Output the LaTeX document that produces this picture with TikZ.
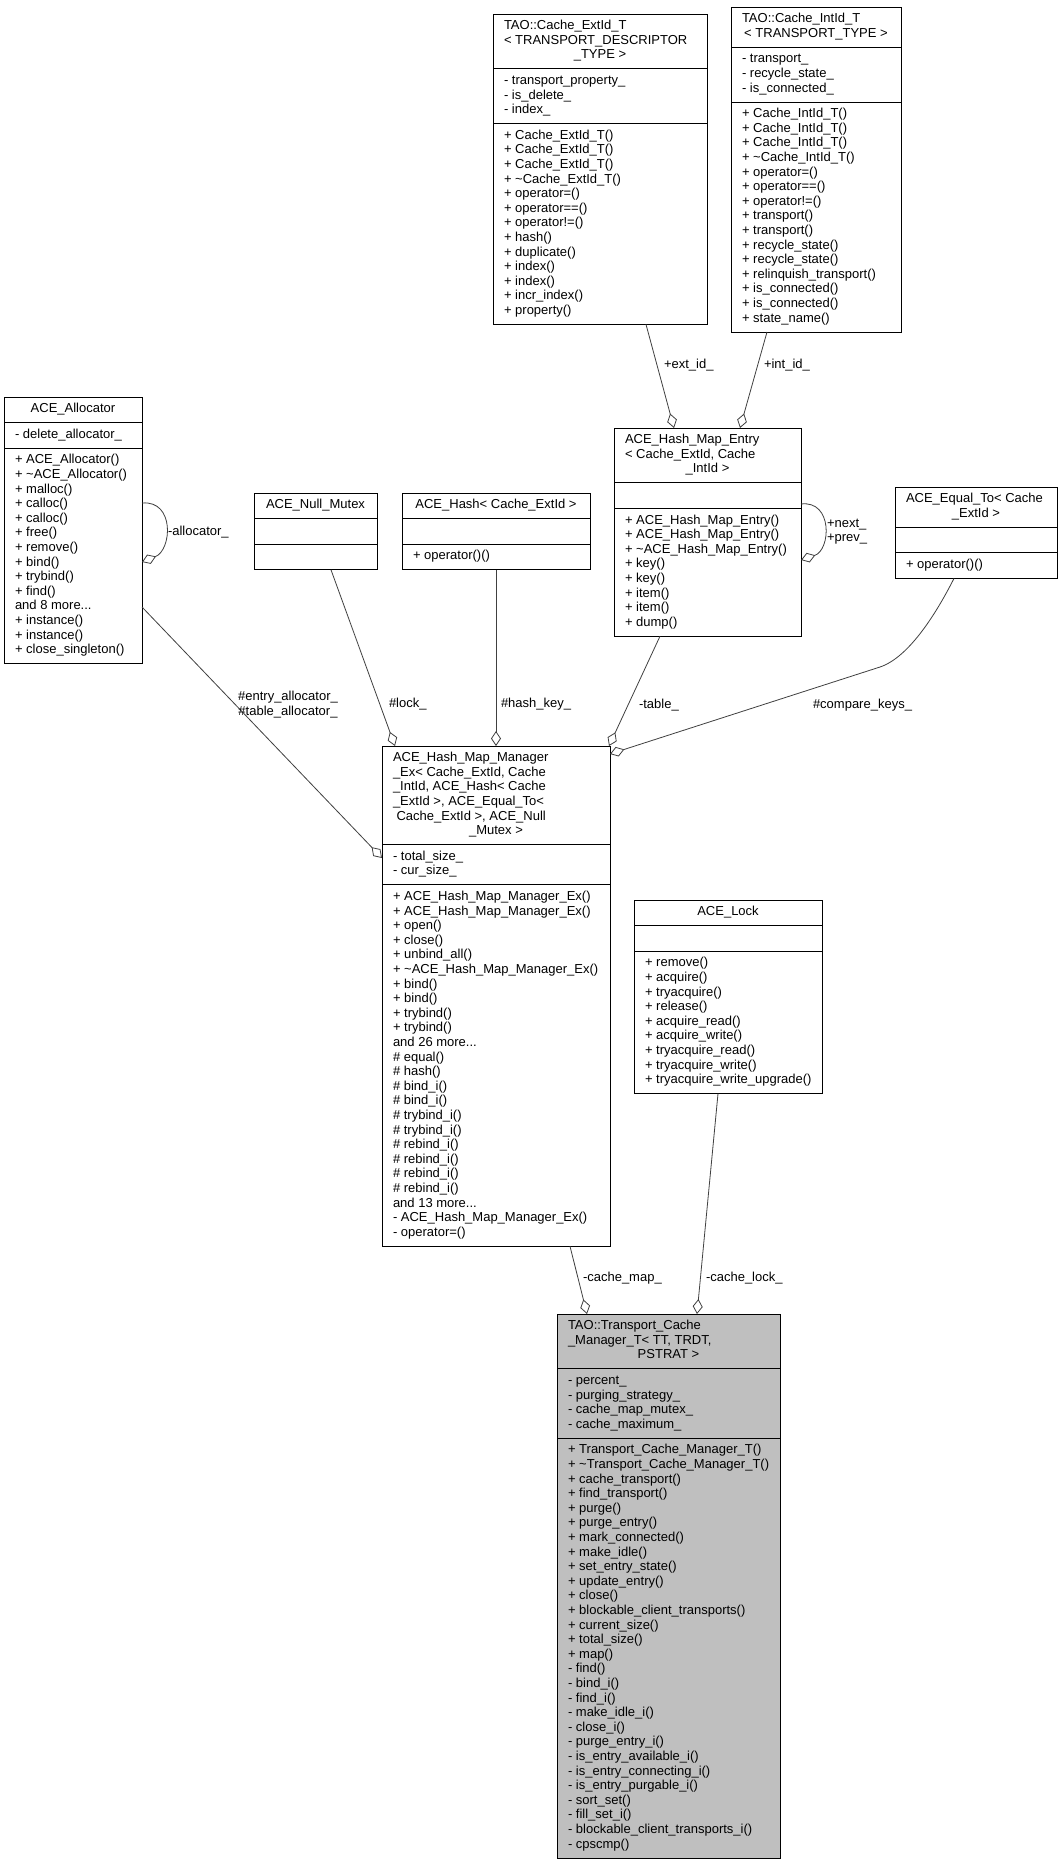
\documentclass[tikz,border=0pt]{standalone}
\usepackage{fontspec}
\setmainfont{Liberation Sans}
\usetikzlibrary{arrows.meta,calc}
\definecolor{cgray}{HTML}{BFBFBF}
\definecolor{edgecol}{HTML}{404040}
\tikzset{
 umlbox/.style={draw=black, line width=1pt, inner sep=0pt, outer sep=0pt, anchor=north west},
 sepline/.style={draw=black, line width=1pt},
 txt/.style={inner sep=0pt, outer sep=0pt, font=\fontsize{13}{14.6}\selectfont},
 agg/.style={draw=edgecol, line width=0.8pt, -{Diamond[open,length=15pt,width=10pt]}},
 lbl/.style={txt, anchor=west},
}
\newcommand\umlclass[8]{%
  \pgfmathsetmacro\hA{14.6*max(#5,1)+11}%
  \pgfmathsetmacro\hB{14.6*max(#6,1)+11}%
  \pgfmathsetmacro\hC{14.6*max(#7,1)+11}%
  \pgfmathsetmacro\hT{\hA+\hB+\hC}%
  \node[umlbox, fill=#8, minimum width=#4pt, minimum height=\hT pt] (#1) at (#2,#3) {};
  \draw[sepline] ($(#1.north west)+(0,\hA)$) -- ($(#1.north east)+(0,\hA)$);
  \draw[sepline] ($(#1.north west)+(0,\hA+\hB)$) -- ($(#1.north east)+(0,\hA+\hB)$);
  \coordinate (#1-h) at ($(#1.north west)+(11,5.5)$);
  \coordinate (#1-a) at ($(#1.north west)+(11,\hA+5.5)$);
  \coordinate (#1-m) at ($(#1.north west)+(11,\hA+\hB+5.5)$);
}
\newcommand\hl[3]{\node[txt, anchor=base west] (#1-t#2) at ($(#1-h)+(0,10.22+#2*14.6)$) {#3};}
\newcommand\hc[3]{\node[txt, anchor=base] (#1-t#2) at ($(#1.north)+(0,5.5+10.22+#2*14.6)$) {#3};}
\newcommand\attrs[2]{\node[txt, anchor=north west] (#1-at) at (#1-a) {\begin{tabular}{@{}l@{}}#2\end{tabular}};}
\newcommand\meths[2]{\node[txt, anchor=north west] (#1-me) at (#1-m) {\begin{tabular}{@{}l@{}}#2\end{tabular}};}
\newcommand\tld{\textasciitilde{}}
\begin{document}
\catcode`\_=12
\begin{tikzpicture}[x=1pt,y=-1pt]
\fill[white] (0,0) rectangle (1063,1864);
\useasboundingbox (0,0) rectangle (1063,1864);

% ---------- classes ----------
\umlclass{extid}{493}{14}{214}{3}{3}{13}{white}
\hl{extid}{0}{TAO::Cache_ExtId_T}
\hl{extid}{1}{< TRANSPORT_DESCRIPTOR}
\hc{extid}{2}{_TYPE >}
\attrs{extid}{- transport_property_\\- is_delete_\\- index_}
\meths{extid}{+ Cache_ExtId_T()\\+ Cache_ExtId_T()\\+ Cache_ExtId_T()\\+ \tld Cache_ExtId_T()\\+ operator=()\\+ operator==()\\+ operator!=()\\+ hash()\\+ duplicate()\\+ index()\\+ index()\\+ incr_index()\\+ property()}

\umlclass{intid}{731}{7}{170}{2}{3}{15}{white}
\hl{intid}{0}{TAO::Cache_IntId_T}
\hc{intid}{1}{< TRANSPORT_TYPE >}
\attrs{intid}{- transport_\\- recycle_state_\\- is_connected_}
\meths{intid}{+ Cache_IntId_T()\\+ Cache_IntId_T()\\+ Cache_IntId_T()\\+ \tld Cache_IntId_T()\\+ operator=()\\+ operator==()\\+ operator!=()\\+ transport()\\+ transport()\\+ recycle_state()\\+ recycle_state()\\+ relinquish_transport()\\+ is_connected()\\+ is_connected()\\+ state_name()}

\umlclass{alloc}{4}{397}{138}{1}{1}{14}{white}
\hc{alloc}{0}{ACE_Allocator}
\attrs{alloc}{- delete_allocator_}
\meths{alloc}{+ ACE_Allocator()\\+ \tld ACE_Allocator()\\+ malloc()\\+ calloc()\\+ calloc()\\+ free()\\+ remove()\\+ bind()\\+ trybind()\\+ find()\\and 8 more...\\+ instance()\\+ instance()\\+ close_singleton()}

\umlclass{nullmx}{254}{493}{123}{1}{0}{0}{white}
\hc{nullmx}{0}{ACE_Null_Mutex}

\umlclass{hash}{402}{493}{188}{1}{0}{1}{white}
\hc{hash}{0}{ACE_Hash< Cache_ExtId >}
\meths{hash}{+ operator()()}

\umlclass{entry}{614}{428}{187}{3}{0}{8}{white}
\hl{entry}{0}{ACE_Hash_Map_Entry}
\hl{entry}{1}{< Cache_ExtId, Cache}
\hc{entry}{2}{_IntId >}
\meths{entry}{+ ACE_Hash_Map_Entry()\\+ ACE_Hash_Map_Entry()\\+ \tld ACE_Hash_Map_Entry()\\+ key()\\+ key()\\+ item()\\+ item()\\+ dump()}

\umlclass{equal}{895}{487}{162}{2}{0}{1}{white}
\hl{equal}{0}{ACE_Equal_To< Cache}
\hc{equal}{1}{_ExtId >}
\meths{equal}{+ operator()()}

\umlclass{hmm}{382}{746}{228}{6}{2}{24}{white}
\hl{hmm}{0}{ACE_Hash_Map_Manager}
\hl{hmm}{1}{_Ex< Cache_ExtId, Cache}
\hl{hmm}{2}{_IntId, ACE_Hash< Cache}
\hl{hmm}{3}{_ExtId >, ACE_Equal_To<}
\hl{hmm}{4}{\hspace{3.6pt}Cache_ExtId >, ACE_Null}
\hc{hmm}{5}{_Mutex >}
\attrs{hmm}{- total_size_\\- cur_size_}
\meths{hmm}{+ ACE_Hash_Map_Manager_Ex()\\+ ACE_Hash_Map_Manager_Ex()\\+ open()\\+ close()\\+ unbind_all()\\+ \tld ACE_Hash_Map_Manager_Ex()\\+ bind()\\+ bind()\\+ trybind()\\+ trybind()\\and 26 more...\\\# equal()\\\# hash()\\\# bind_i()\\\# bind_i()\\\# trybind_i()\\\# trybind_i()\\\# rebind_i()\\\# rebind_i()\\\# rebind_i()\\\# rebind_i()\\and 13 more...\\- ACE_Hash_Map_Manager_Ex()\\- operator=()}

\umlclass{lock}{634}{900}{188}{1}{0}{9}{white}
\hc{lock}{0}{ACE_Lock}
\meths{lock}{+ remove()\\+ acquire()\\+ tryacquire()\\+ release()\\+ acquire_read()\\+ acquire_write()\\+ tryacquire_read()\\+ tryacquire_write()\\+ tryacquire_write_upgrade()}

\umlclass{trans}{557}{1314}{223}{3}{4}{28}{cgray}
\hl{trans}{0}{TAO::Transport_Cache}
\hl{trans}{1}{_Manager_T< TT, TRDT,}
\hc{trans}{2}{PSTRAT >}
\attrs{trans}{- percent_\\- purging_strategy_\\- cache_map_mutex_\\- cache_maximum_}
\meths{trans}{+ Transport_Cache_Manager_T()\\+ \tld Transport_Cache_Manager_T()\\+ cache_transport()\\+ find_transport()\\+ purge()\\+ purge_entry()\\+ mark_connected()\\+ make_idle()\\+ set_entry_state()\\+ update_entry()\\+ close()\\+ blockable_client_transports()\\+ current_size()\\+ total_size()\\+ map()\\- find()\\- bind_i()\\- find_i()\\- make_idle_i()\\- close_i()\\- purge_entry_i()\\- is_entry_available_i()\\- is_entry_connecting_i()\\- is_entry_purgable_i()\\- sort_set()\\- fill_set_i()\\- blockable_client_transports_i()\\- cpscmp()}

% ---------- connectors ----------
\draw[agg] ($(extid.south west)+(153,0)$) -- ($(entry.north west)+(60,0)$);
\draw[agg] ($(intid.south west)+(36,0)$) -- ($(entry.north west)+(126,0)$);
\draw[agg] ($(entry.north east)+(0,76)$) .. controls ($(entry.north east)+(32,72)$) and ($(entry.north east)+(30,122)$) .. ($(entry.north east)+(0,132)$);
\draw[agg] ($(alloc.north east)+(0,106)$) .. controls ($(alloc.north east)+(33,103)$) and ($(alloc.north east)+(30,153)$) .. ($(alloc.north east)+(0,165)$);
\draw[agg] ($(alloc.north east)+(0,210)$) -- ($(hmm.north west)+(0,112)$);
\draw[agg] ($(nullmx.south west)+(77,0)$) -- ($(hmm.north west)+(13,0)$);
\draw[agg] ($(hash.south west)+(94,0)$) -- ($(hmm.north west)+(114,0)$);
\draw[agg] ($(entry.south west)+(46,0)$) -- ($(hmm.north east)+(-1,0)$);
\draw[agg] ($(equal.south west)+(59,0)$) .. controls (938,610) and (910,657) .. (880,667) -- ($(hmm.north east)+(0,8)$);
\draw[agg] ($(hmm.south west)+(188,0)$) -- ($(trans.north west)+(30,0)$);
\draw[agg] ($(lock.south west)+(84,0)$) -- ($(trans.north west)+(140,0)$);

% ---------- connector labels ----------
\node[lbl] (lext) at (664,365) {+ext_id_};
\node[lbl] (lint) at (764,365) {+int_id_};
\node[lbl] (lalloc) at (168,532) {-allocator_};
\node[txt, align=left, anchor=west] (lnp) at (827,531.5) {+next_\\+prev_};
\node[txt, align=center] (lea) at (288,704.5) {\#entry_allocator_\\\#table_allocator_};
\node[lbl] (llock) at (389,704) {\#lock_};
\node[lbl] (lhk) at (501,704) {\#hash_key_};
\node[lbl] (ltab) at (639,705) {-table_};
\node[lbl] (lck) at (813,705) {\#compare_keys_};
\node[lbl] (lcm) at (583,1278) {-cache_map_};
\node[lbl] (lcl) at (706,1278) {-cache_lock_};
\end{tikzpicture}
\end{document}
